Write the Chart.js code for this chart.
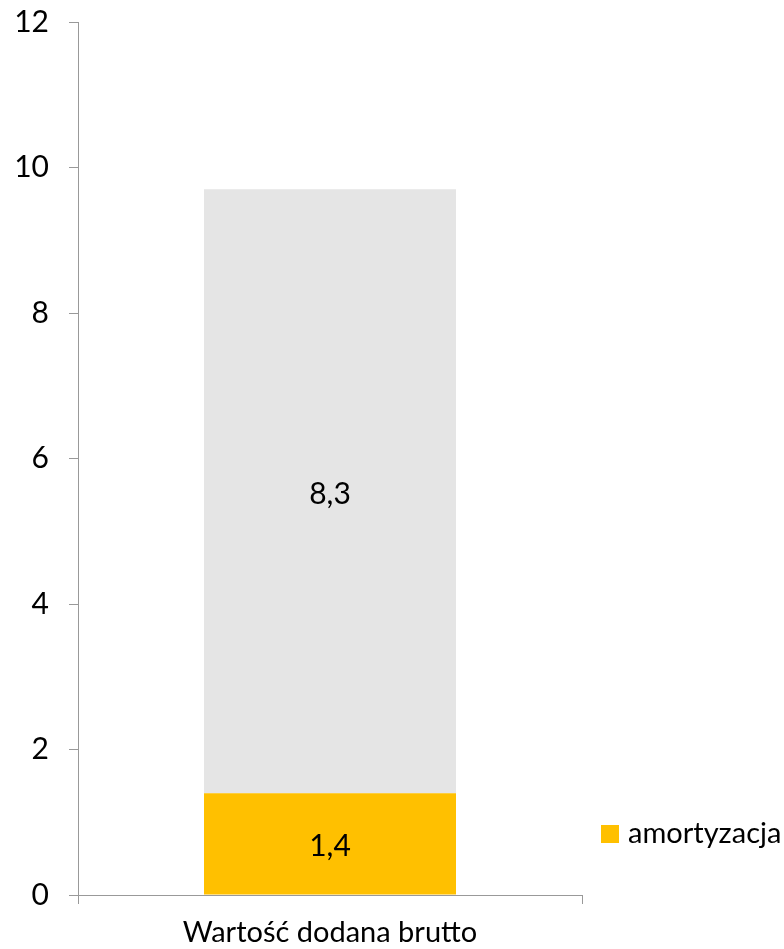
<!DOCTYPE html>
<html>
<head>
<meta charset="utf-8">
<script src="https://cdn.jsdelivr.net/npm/chart.js@4/dist/chart.umd.min.js"></script>
<style>
  html, body { margin: 0; padding: 0; background: #fff; }
  #wrap { width: 784px; height: 949px; position: relative; }
</style>
</head>
<body>
<div id="wrap"><canvas id="wykres"></canvas></div>
<script>
// Dane
const kategorie = ['Wartość dodana brutto'];
const amortyzacja = [1.4];
const reszta = [8.3];
const osY = { min: 0, max: 12, krok: 2 };

const czcionka = 'Lato, "Open Sans", sans-serif';

// etykiety wartości na środku segmentów
const etykietyPlugin = {
    id: 'etykiety',
    afterDatasetsDraw(chart) {
        const ctx = chart.ctx;
        ctx.save();
        ctx.font = '30px ' + czcionka;
        ctx.fillStyle = '#000';
        ctx.textAlign = 'center';
        ctx.textBaseline = 'middle';
        chart.data.datasets.forEach((ds, i) => {
            chart.getDatasetMeta(i).data.forEach((bar, j) => {
                const p = bar.getProps(['x', 'y', 'base'], true);
                const tekst = ds.data[j].toFixed(1).replace('.', ',');
                ctx.fillText(tekst, p.x, (p.y + p.base) / 2 + 3);
            });
        });
        ctx.restore();
    }
};

// legenda tylko dla amortyzacji, po prawej stronie
const legendaPlugin = {
    id: 'legenda',
    afterDraw(chart) {
        const ctx = chart.ctx;
        const x = chart.chartArea.right + 19;
        const y = 834;
        ctx.save();
        ctx.fillStyle = '#FFC000';
        ctx.fillRect(x, y - 9, 18, 18);
        ctx.fillStyle = '#000';
        ctx.font = '29px ' + czcionka;
        ctx.textBaseline = 'middle';
        ctx.fillText(chart.data.datasets[0].label, x + 27, y);
        ctx.restore();
    }
};

const ctx = document.getElementById('wykres').getContext('2d');
const wykres = new Chart(ctx, {
    type: 'bar',
    data: {
        labels: kategorie,
        datasets: [
            {
                label: 'amortyzacja',
                data: amortyzacja,
                backgroundColor: '#FFC000',
                barPercentage: 0.5,
                categoryPercentage: 1
            },
            {
                label: 'pozostałe',
                data: reszta,
                backgroundColor: '#E5E5E5',
                barPercentage: 0.5,
                categoryPercentage: 1
            }
        ]
    },
    options: {
        responsive: true,
        maintainAspectRatio: false,
        animation: false,
        layout: { padding: { left: 0, right: 202, top: 22, bottom: 0 } },
        plugins: {
            legend: { display: false },
            tooltip: { enabled: false }
        },
        scales: {
            x: {
                stacked: true,
                grid: { offset: true, drawOnChartArea: false, drawTicks: true, tickLength: 9, color: '#999' },
                border: { color: '#999', width: 1 },
                ticks: { color: '#000', font: { family: czcionka, size: 29 }, padding: 11 },
                afterFit: s => { s.height = 54; s.paddingLeft = 0; s.paddingRight = 0; }
            },
            y: {
                stacked: true,
                min: osY.min,
                max: osY.max,
                grid: { drawOnChartArea: false, drawTicks: true, tickLength: 9, color: '#999' },
                border: { color: '#999', width: 1 },
                ticks: { stepSize: osY.krok, color: '#000', font: { family: czcionka, size: 30 }, padding: 20 },
                afterFit: s => { s.width = 78; s.paddingTop = 0; s.paddingBottom = 0; }
            }
        }
    },
    plugins: [etykietyPlugin, legendaPlugin]
});
</script>
</body>
</html>
